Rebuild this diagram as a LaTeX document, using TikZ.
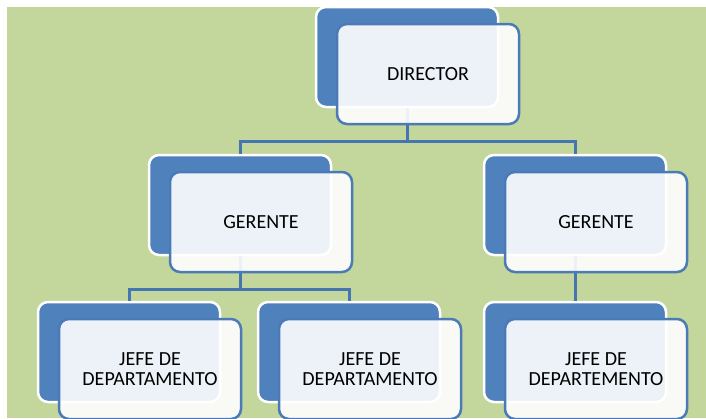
\documentclass[tikz,border=0pt]{standalone}
\usepackage{fontspec}
\setmainfont{Carlito}
\usepackage{xcolor}
\usepackage{tikz}
\usetikzlibrary{positioning}
\definecolor{bggreen}{HTML}{C3D69B}
\definecolor{boxblue}{HTML}{4F81BD}
\definecolor{edgeblue}{HTML}{4A7BB7}
\definecolor{linkblue}{HTML}{4676B2}
\tikzset{
    backbox/.style = {rectangle, rounded corners=10pt, draw=white, line width=2.5pt, fill=boxblue, minimum width=182pt, minimum height=100pt, inner sep=0pt},
    frontbox/.style = {rectangle, rounded corners=10pt, draw=edgeblue, line width=2.5pt, fill=white, fill opacity=0.9, text opacity=1, minimum width=182pt, minimum height=100pt, inner sep=0pt, align=center},
}

\begin{document}
\begin{tikzpicture}[
	x=1pt,
	y=-1pt,
	font=\fontsize{20}{20}\selectfont
]
\tikzset{
    conn/.style = {-,line width=3pt,linkblue},
}
\useasboundingbox (0,0) rectangle (706,418);
\fill[bggreen] (7,7) rectangle (706,418);
%
\node[backbox] at (407,57) (dirb) {};
\node[backbox] at (240,205) (gerlb) {};
\node[backbox] at (575,205) (gerrb) {};
\node[backbox] at (129,352) (jefab) {};
\node[backbox] at (349,352) (jefbb) {};
\node[backbox] at (575,352) (jefcb) {};
%
\draw[conn] (dirb.south) -- ++(0,33) -| (gerlb.north);
\draw[conn] (dirb.south) -- ++(0,33) -| (gerrb.north);
\draw[conn] (gerlb.south) -- ++(0,33) -| (jefab.north);
\draw[conn] (gerlb.south) -- ++(0,33) -| (jefbb.north);
\draw[conn] (gerrb.south) -- (jefcb.north);
%
\node[frontbox] at ([xshift=21pt,yshift=-17pt]dirb.center) (dir) {DIRECTOR};
\node[frontbox] at ([xshift=21pt,yshift=-17pt]gerlb.center) (gerl) {GERENTE};
\node[frontbox] at ([xshift=21pt,yshift=-17pt]gerrb.center) (gerr) {GERENTE};
\node[frontbox] at ([xshift=21pt,yshift=-17pt]jefab.center) (jefa) {JEFE DE\\DEPARTAMENTO};
\node[frontbox] at ([xshift=21pt,yshift=-17pt]jefbb.center) (jefb) {JEFE DE\\DEPARTAMENTO};
\node[frontbox] at ([xshift=21pt,yshift=-17pt]jefcb.center) (jefc) {JEFE DE\\DEPARTEMENTO};
\end{tikzpicture}
\end{document}
